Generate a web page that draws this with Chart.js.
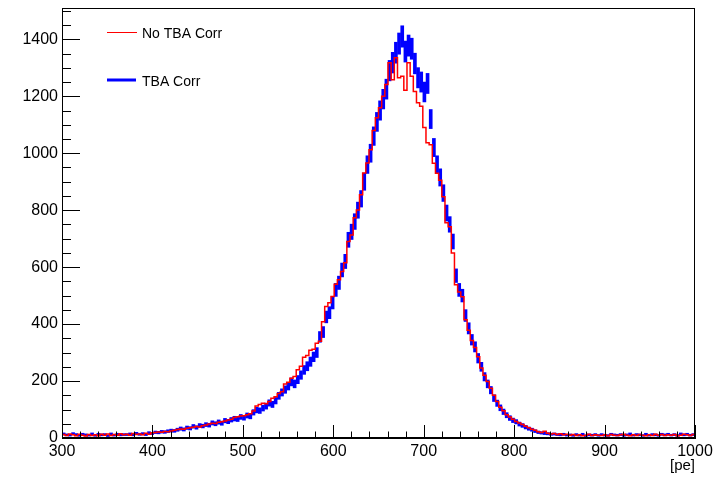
<!DOCTYPE html>
<html><head><meta charset="utf-8">
<script src="https://cdn.jsdelivr.net/npm/chart.js@4"></script>
<style>html,body{margin:0;padding:0;background:#fff}#wrap{width:724px;height:479px}</style>
</head><body><div id="wrap"><canvas id="c" width="724" height="479"></canvas></div>
<script>
// ---- data ----
const xMin = 300, xMax = 1000, binWidth = 3.5;
const yMin = 0, yMax = 1510;
const xTicks = [300, 400, 500, 600, 700, 800, 900, 1000];
const yTicks = [0, 200, 400, 600, 800, 1000, 1200, 1400];
const xTitle = "[pe]";
const seriesNames = ["No TBA Corr", "TBA Corr"];
const noTbaCorr = [
  12, 9, 14, 11, 8, 13, 10, 7, 12, 9,
  11, 8, 13, 10, 14, 9, 12, 10, 15, 11,
  13, 10, 16, 12, 14, 11, 17, 13, 18, 19,
  21, 20, 23, 22, 25, 27, 30, 32, 31, 34,
  36, 38, 40, 39, 43, 46, 49, 52, 51, 55,
  57, 60, 63, 66, 72, 75, 77, 78, 82, 85,
  95, 112, 118, 122, 120, 128, 140, 145, 156, 162,
  190, 196, 210, 216, 240, 252, 284, 290, 308, 312,
  333, 340, 408, 462, 475, 497, 540, 556, 585, 615,
  690, 713, 773, 801, 854, 931, 966, 1012, 1080, 1125,
  1160, 1200, 1241, 1318, 1258, 1335, 1265, 1270, 1221, 1318,
  1270, 1217, 1177, 1165, 1090, 1037, 1030, 965, 930, 905,
  847, 756, 742, 650, 538, 513, 496, 415, 378, 342,
  318, 285, 246, 220, 198, 175, 150, 128, 108, 96,
  82, 74, 66, 58, 53, 47, 41, 36, 31, 27,
  22, 19, 24, 17, 14, 16, 12, 15, 11, 13,
  10, 12, 9, 11, 8, 10, 13, 9, 11, 10,
  9, 11, 8, 12, 10, 9, 11, 13, 10, 8,
  11, 9, 12, 10, 8, 11, 9, 13, 10, 12,
  9, 11, 10, 12, 8, 10, 13, 11, 9, 12
];
const tbaCorr = [
  14, 11, 10, 15, 12, 9, 13, 11, 10, 14,
  9, 13, 11, 12, 8, 14, 10, 13, 11, 12,
  12, 14, 11, 16, 13, 15, 12, 18, 16, 20,
  19, 22, 21, 24, 26, 25, 29, 33, 30, 36,
  34, 41, 37, 44, 42, 47, 45, 53, 50, 56,
  52, 61, 58, 64, 68, 66, 74, 71, 79, 76,
  90, 98, 96, 105, 112, 123, 118, 131, 148, 160,
  170, 182, 197, 190, 205, 221, 239, 252, 268, 285,
  300, 355, 372, 425, 440, 475, 520, 545, 590, 620,
  696, 724, 760, 800, 840, 900, 960, 1000, 1060, 1110,
  1150, 1190, 1225, 1290, 1318, 1353, 1385, 1410, 1357, 1378,
  1367, 1315, 1265, 1250, 1215, 1245, 1120, 1020, 960, 915,
  860, 790, 750, 690, 570, 520, 500, 430, 385, 345,
  320, 280, 250, 215, 190, 168, 140, 122, 106, 92,
  80, 70, 62, 57, 49, 44, 38, 33, 29, 24,
  20, 18, 16, 15, 13, 14, 12, 11, 13, 10,
  11, 9, 12, 10, 13, 8, 11, 10, 12, 9,
  12, 10, 9, 13, 11, 10, 12, 9, 11, 14,
  10, 12, 11, 9, 13, 10, 12, 11, 9, 13,
  11, 13, 10, 12, 9, 14, 11, 13, 10, 12
];

// ---- build library tables ----
const redPts = noTbaCorr.map((v, i) => ({x: xMin + i * binWidth, y: v}));
redPts.push({x: xMax, y: noTbaCorr[noTbaCorr.length - 1]});
const bluePts = tbaCorr.map((v, i) => ({x: xMin + (i + 0.5) * binWidth, y: [v - Math.sqrt(v), v + Math.sqrt(v)]}));

const FONT = "'Liberation Sans', Arial, sans-serif";

const frame = {
  id: 'frame',
  afterDatasetsDraw(chart) {
    const {ctx, chartArea: a, scales: {x, y}} = chart;
    ctx.save();
    ctx.strokeStyle = '#000';
    ctx.lineWidth = 1;
    ctx.strokeRect(a.left + 0.5, a.top + 0.5, a.right - a.left - 1, a.bottom - a.top - 1);
    ctx.beginPath();
    for (let v = xMin; v <= xMax + 1e-6; v += 20) {
      const px = Math.round(x.getPixelForValue(v)) + 0.5;
      const len = (v % 100 === 0) ? 13 : 6.5;
      ctx.moveTo(px, a.bottom); ctx.lineTo(px, a.bottom - len);
    }
    for (let v = yMin; v <= yMax; v += 50) {
      const py = Math.round(y.getPixelForValue(v)) + 0.5;
      const len = (v % 200 === 0) ? 18 : 9;
      ctx.moveTo(a.left, py); ctx.lineTo(a.left + len, py);
    }
    ctx.stroke();
    // legend
    ctx.font = '14px ' + FONT;
    ctx.fillStyle = '#000';
    ctx.textBaseline = 'alphabetic';
    ctx.strokeStyle = '#ff0000'; ctx.lineWidth = 1;
    ctx.beginPath(); ctx.moveTo(107, 32.5); ctx.lineTo(137, 32.5); ctx.stroke();
    ctx.fillText(seriesNames[0], 142, 37.5);
    ctx.strokeStyle = '#0000ff'; ctx.lineWidth = 3;
    ctx.beginPath(); ctx.moveTo(107, 80); ctx.lineTo(136, 80); ctx.stroke();
    ctx.fillText(seriesNames[1], 142, 85.5);
    ctx.restore();
  }
};

new Chart(document.getElementById('c'), {
  type: 'bar',
  data: {
    datasets: [
      {type: 'line', label: seriesNames[0], data: redPts, stepped: true, borderColor: '#ff0000',
       borderWidth: 1.5, pointRadius: 0, fill: false, order: 0},
      {type: 'bar', label: seriesNames[1], data: bluePts, backgroundColor: '#0000ff',
       borderWidth: 0, barThickness: 3, order: 1}
    ]
  },
  options: {
    responsive: false, animation: false, devicePixelRatio: 1,
    layout: {padding: {top: 8, right: 29, left: 0, bottom: 0}},
    plugins: {legend: {display: false}, tooltip: {enabled: false}},
    scales: {
      x: {
        type: 'linear', min: xMin, max: xMax, offset: false,
        grid: {display: false, drawTicks: false, offset: false},
        border: {display: true, color: '#000'},
        afterBuildTicks: s => { s.ticks = xTicks.map(v => ({value: v})); },
        afterFit: s => { s.height = 41; s.paddingLeft = 0; s.paddingRight = 0; },
        ticks: {font: {family: FONT, size: 16}, color: '#000', padding: 4, maxRotation: 0, autoSkip: false,
                callback: v => String(v)},
        title: {display: true, text: xTitle, align: 'end', color: '#000', font: {family: FONT, size: 15}, padding: {top: 0, bottom: 4}}
      },
      y: {
        type: 'linear', min: yMin, max: yMax,
        grid: {display: false, drawTicks: false},
        border: {display: true, color: '#000'},
        afterBuildTicks: s => { s.ticks = yTicks.map(v => ({value: v})); },
        afterFit: s => { s.width = 62; s.paddingTop = 0; s.paddingBottom = 0; },
        ticks: {font: {family: FONT, size: 16}, color: '#000', padding: 4, autoSkip: false,
                callback: v => String(v)}
      }
    }
  },
  plugins: [frame]
});
</script>
</body></html>
